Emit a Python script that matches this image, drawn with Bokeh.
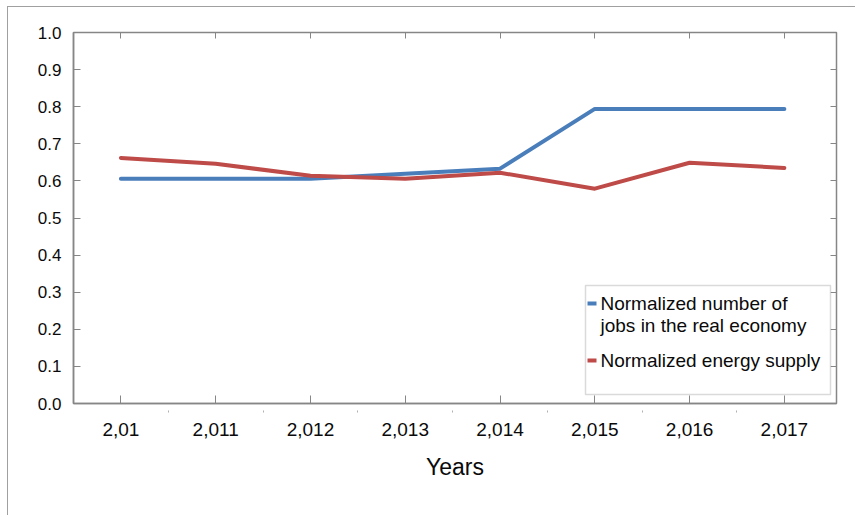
from bokeh.plotting import figure
from bokeh.models import (LinearAxis, FixedTicker, PrintfTickFormatter, Range1d,
                          BoxAnnotation, Label)
from bokeh.embed import file_html
from bokeh.resources import INLINE

years = [2010, 2011, 2012, 2013, 2014, 2015, 2016, 2017]
year_labels = ["2,01", "2,011", "2,012", "2,013", "2,014", "2,015", "2,016", "2,017"]
jobs = [0.606, 0.606, 0.606, 0.619, 0.633, 0.794, 0.794, 0.794]
energy = [0.662, 0.646, 0.614, 0.606, 0.622, 0.579, 0.649, 0.635]
y_ticks = [0.0, 0.1, 0.2, 0.3, 0.4, 0.5, 0.6, 0.7, 0.8, 0.9, 1.0]
minor_x = [2010.5, 2011.5, 2012.5, 2013.5, 2014.5, 2015.5, 2016.5]
series_names = ["Normalized number of\njobs in the real economy", "Normalized energy supply"]
x_title = "Years"

FONT = "Liberation Sans"
GRAY = "#868686"
TXT = "#0a0a0a"
BLUE = "#4a7ebb"
RED = "#be4b48"

p = figure(width=848, height=509, output_backend="svg", toolbar_location=None,
           x_range=Range1d(2009.5, 2017.55), y_range=Range1d(0, 1.0),
           min_border_left=65, min_border_right=20, min_border_top=25,
           min_border_bottom=113, x_axis_type=None, y_axis_type=None)
p.styles = {"margin-left": "7px", "margin-top": "6px",
            "border-top": "1px solid #a0a0a0", "border-left": "1px solid #a0a0a0"}
p.xgrid.visible = False
p.ygrid.visible = False
p.outline_line_color = GRAY
p.outline_line_width = 1.5
p.background_fill_color = "white"
p.border_fill_color = "white"

# bottom axis
xa = LinearAxis(ticker=FixedTicker(ticks=years, minor_ticks=minor_x))
xa.major_label_overrides = {y: l for y, l in zip(years, year_labels)}
xa.axis_label = x_title
xa.axis_label_text_font = FONT
xa.axis_label_text_font_size = "23px"
xa.axis_label_text_font_style = "normal"
xa.axis_label_text_color = TXT
xa.axis_label_standoff = 15
xa.major_label_text_font = FONT
xa.major_label_text_font_size = "19px"
xa.major_label_text_color = TXT
xa.major_label_standoff = 10
xa.major_tick_in = 8
xa.major_tick_out = 0
xa.minor_tick_in = -7
xa.minor_tick_out = 9
xa.minor_tick_line_color = "#b0b0b0"
xa.axis_line_color = GRAY
xa.axis_line_width = 1.5
xa.major_tick_line_color = GRAY
p.add_layout(xa, "below")

# left axis
ya = LinearAxis(ticker=FixedTicker(ticks=y_ticks))
ya.formatter = PrintfTickFormatter(format="%.1f")
ya.major_label_text_font = FONT
ya.major_label_text_font_size = "17px"
ya.major_label_text_color = TXT
ya.major_label_standoff = 12
ya.major_tick_in = 7
ya.major_tick_out = 0
ya.minor_tick_line_color = None
ya.axis_line_color = GRAY
ya.axis_line_width = 1.5
ya.major_tick_line_color = GRAY
p.add_layout(ya, "left")

# top axis (ticks only)
ta = LinearAxis(ticker=FixedTicker(ticks=years))
ta.major_label_text_font_size = "1px"
ta.major_label_text_color = None
ta.major_tick_in = 6
ta.major_tick_out = 0
ta.minor_tick_line_color = None
ta.axis_line_color = GRAY
ta.major_tick_line_color = GRAY
p.add_layout(ta, "above")

# right axis (ticks only)
ra = LinearAxis(ticker=FixedTicker(ticks=y_ticks))
ra.major_label_text_font_size = "1px"
ra.major_label_text_color = None
ra.major_tick_in = 6
ra.major_tick_out = 0
ra.minor_tick_line_color = None
ra.axis_line_color = GRAY
ra.major_tick_line_color = GRAY
p.add_layout(ra, "right")

p.line(years, jobs, line_color=BLUE, line_width=4, line_join="round", line_cap="round")
p.line(years, energy, line_color=RED, line_width=4, line_join="round", line_cap="round")

# legend (screen units, relative to the plot frame)
p.add_layout(BoxAnnotation(left=512, right=757, bottom=9, top=118,
                           left_units="screen", right_units="screen",
                           bottom_units="screen", top_units="screen",
                           fill_color="white", fill_alpha=1.0,
                           line_color=GRAY, line_width=1.5))
legend_rows = [(series_names[0], BLUE, 100), (series_names[1], RED, 43)]
for name, color, yc in legend_rows:
    p.add_layout(BoxAnnotation(left=514, right=523, bottom=yc - 2, top=yc + 2,
                               left_units="screen", right_units="screen",
                               bottom_units="screen", top_units="screen",
                               fill_color=color, fill_alpha=1.0, line_color=None))
    for i, line in enumerate(name.split("\n")):
        p.add_layout(Label(x=527, y=yc - 22 * i, x_units="screen", y_units="screen",
                           text=line, text_baseline="middle", text_align="left",
                           text_font=FONT, text_font_size="19px", text_color=TXT))

open("out.html", "w").write(file_html(p, INLINE))
